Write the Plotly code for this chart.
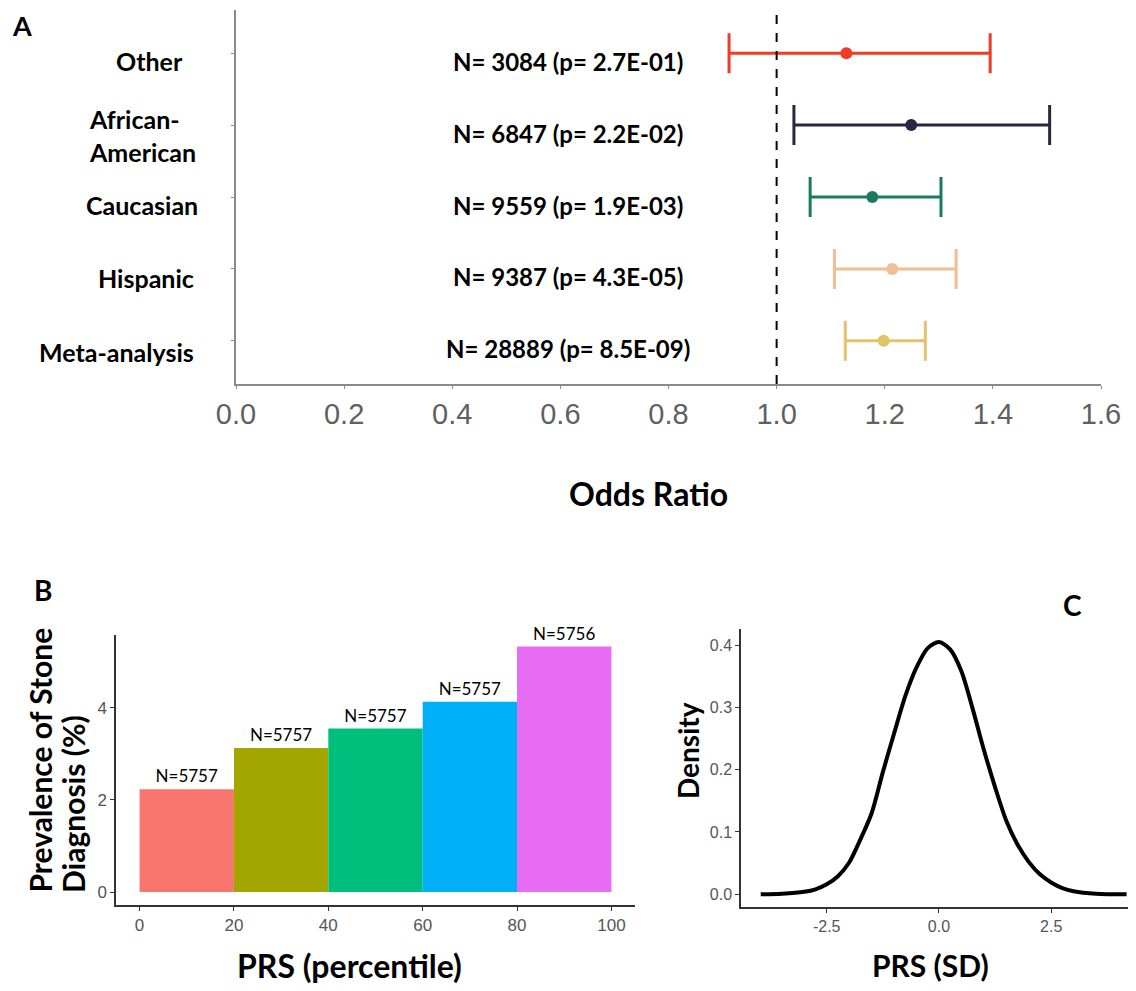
import plotly.graph_objects as go

# ---------------- Panel A data (forest plot) ----------------
groups = ["Other", "African-<br>American", "Caucasian", "Hispanic", "Meta-analysis"]
group_pos = [5, 4, 3, 2, 1]
odds_ratio = [1.129, 1.249, 1.177, 1.214, 1.198]
ci_low = [0.912, 1.032, 1.062, 1.107, 1.127]
ci_high = [1.395, 1.505, 1.304, 1.332, 1.275]
n_labels = ["N= 3084 (p= 2.7E-01)", "N= 6847 (p= 2.2E-02)", "N= 9559 (p= 1.9E-03)",
            "N= 9387 (p= 4.3E-05)", "N= 28889 (p= 8.5E-09)"]
group_colors = ["#F03C25", "#2A2540", "#1B7B5F", "#F1BD93", "#E4C26A"]
or_ticks = [0.0, 0.2, 0.4, 0.6, 0.8, 1.0, 1.2, 1.4, 1.6]

# ---------------- Panel B data (bars) ----------------
pct_bins_center = [10, 30, 50, 70, 90]
prevalence = [2.23, 3.13, 3.55, 4.13, 5.33]
bin_n = ["N=5757", "N=5757", "N=5757", "N=5757", "N=5756"]
bar_colors = ["#F8766D", "#A3A500", "#00BF7D", "#00B0F6", "#E76BF3"]

# ---------------- Panel C data (density) ----------------
prs_sd = [-3.97, -3.5, -3.0, -2.75, -2.5, -2.25, -2.0, -1.75, -1.5, -1.25, -1.0, -0.75,
          -0.5, -0.25, 0.0, 0.25, 0.5, 0.75, 1.0, 1.25, 1.5, 1.75, 2.0, 2.25, 2.5,
          2.75, 3.0, 3.5, 4.18]
density = [0.000, 0.001, 0.004, 0.008, 0.016, 0.029, 0.051, 0.088, 0.130, 0.196, 0.258,
           0.318, 0.364, 0.395, 0.405, 0.393, 0.358, 0.298, 0.232, 0.172, 0.118, 0.080,
           0.052, 0.032, 0.019, 0.010, 0.005, 0.001, 0.000]

# page body has an 8px margin, so the figure is shrunk and offset by it
OFF = 8
W, H = 1136 - OFF, 991 - OFF
def px(x):
    return (x - OFF) / W
def py(y):
    return 1 - (y - OFF) / H

fig = go.Figure()

# Panel A traces
for i in range(len(groups)):
    fig.add_trace(go.Scatter(
        x=[odds_ratio[i]], y=[group_pos[i]], mode="markers",
        marker=dict(color=group_colors[i], size=12),
        error_x=dict(type="data", symmetric=False,
                     array=[ci_high[i] - odds_ratio[i]],
                     arrayminus=[odds_ratio[i] - ci_low[i]],
                     color=group_colors[i], thickness=3, width=20),
        xaxis="x", yaxis="y", showlegend=False, cliponaxis=False))

# Panel B bars
fig.add_trace(go.Bar(
    x=pct_bins_center, y=prevalence, width=20,
    marker=dict(color=bar_colors, line=dict(width=0)),
    text=bin_n, textposition="outside",
    textfont=dict(family="Lato", size=17, color="black"),
    cliponaxis=False, xaxis="x2", yaxis="y2", showlegend=False))

# Panel C density
fig.add_trace(go.Scatter(
    x=prs_sd, y=density, mode="lines",
    line=dict(color="black", width=4, shape="spline", smoothing=0.8),
    xaxis="x3", yaxis="y3", showlegend=False))

axis_gray = "#8a8a8a"
dark = "#333333"
tickgray = "#555555"

common = dict(showgrid=False, zeroline=False, automargin=False, ticks="outside")

fig.update_layout(
    width=W, height=H,
    margin=dict(l=0, r=0, t=0, b=0, autoexpand=False),
    paper_bgcolor="white", plot_bgcolor="white",
    showlegend=False,
    xaxis=dict(domain=[px(236), px(1101)], anchor="y", range=[0, 1.6],
               tickvals=or_ticks, tickformat=".1f",
               showline=True, linecolor=axis_gray, linewidth=2,
               ticklen=3, tickcolor=axis_gray,
               tickfont=dict(family="Liberation Sans", size=29, color="#606060"), **common),
    yaxis=dict(domain=[py(384), py(10)], anchor="x", range=[0.4, 5.6],
               tickvals=group_pos, showticklabels=False,
               showline=True, linecolor=axis_gray, linewidth=2,
               ticklen=3, tickcolor=axis_gray, **common),
    xaxis2=dict(domain=[px(116), px(635)], anchor="y2", range=[-5, 105],
                tickvals=[0, 20, 40, 60, 80, 100],
                showline=True, linecolor=dark, linewidth=1.5,
                ticklen=4, tickcolor=dark,
                tickfont=dict(family="Liberation Sans", size=17, color=tickgray), **common),
    yaxis2=dict(domain=[py(905), py(635)], anchor="x2", range=[-0.28, 5.58],
                tickvals=[0, 2, 4],
                showline=True, linecolor=dark, linewidth=1.5,
                ticklen=4, tickcolor=dark,
                tickfont=dict(family="Liberation Sans", size=17, color=tickgray), **common),
    xaxis3=dict(domain=[px(741), 1.0], anchor="y3", range=[-4.41, 4.39],
                tickvals=[-2.5, 0, 2.5], ticktext=["-2.5", "0.0", "2.5"],
                showline=True, linecolor=dark, linewidth=1.5,
                ticklen=4, tickcolor=dark,
                tickfont=dict(family="Liberation Sans", size=16, color=tickgray), **common),
    yaxis3=dict(domain=[py(907), py(629)], anchor="x3", range=[-0.0204, 0.4257],
                tickvals=[0, 0.1, 0.2, 0.3, 0.4], ticktext=["0.0", "0.1", "0.2", "0.3", "0.4"],
                showline=True, linecolor=dark, linewidth=1.5,
                ticklen=4, tickcolor=dark,
                tickfont=dict(family="Liberation Sans", size=16, color=tickgray), **common),
)

# dashed reference line at OR = 1
fig.add_shape(type="line", xref="x", yref="y domain", x0=1.0, x1=1.0, y0=0, y1=1,
              line=dict(color="black", width=2, dash="dash"))

bold_font = "Lato"
ann = []
# group labels (left of panel A), left edge positions
label_left = [114, 87, 84, 96, 37]
label_shift = [-8, -10, -8, -9, -11]
for i, g in enumerate(groups):
    ann.append(dict(text="<b>" + g + "</b>", xref="paper", yref="y",
                    x=px(label_left[i]), y=group_pos[i], yshift=label_shift[i],
                    xanchor="left", yanchor="middle", showarrow=False, align="left",
                    font=dict(family=bold_font, size=25, color="black")))
    ann.append(dict(text="<b>" + n_labels[i] + "</b>", xref="x", yref="y",
                    x=0.614, y=group_pos[i], yshift=-8,
                    xanchor="center", yanchor="middle", showarrow=False,
                    font=dict(family=bold_font, size=24, color="black")))

ann += [
    dict(text="<b>Odds Ratio</b>", xref="paper", yref="paper", x=px(648), y=py(493),
         xanchor="center", yanchor="middle", showarrow=False,
         font=dict(family=bold_font, size=32, color="black")),
    dict(text="<b>A</b>", xref="paper", yref="paper", x=px(22), y=1.0,
         xanchor="center", yanchor="top", showarrow=False, borderpad=0,
         font=dict(family=bold_font, size=27, color="black")),
    dict(text="<b>B</b>", xref="paper", yref="paper", x=px(43), y=py(590),
         xanchor="center", yanchor="middle", showarrow=False,
         font=dict(family=bold_font, size=28, color="black")),
    dict(text="<b>C</b>", xref="paper", yref="paper", x=px(1072), y=py(605),
         xanchor="center", yanchor="middle", showarrow=False,
         font=dict(family=bold_font, size=28, color="black")),
    dict(text="<b>Prevalence of Stone</b>", xref="paper", yref="paper",
         x=px(39), y=py(895), textangle=-90,
         xanchor="center", yanchor="bottom", showarrow=False,
         font=dict(family=bold_font, size=30, color="black")),
    dict(text="<b>Diagnosis (%)</b>", xref="paper", yref="paper",
         x=px(73), y=py(895), textangle=-90,
         xanchor="center", yanchor="bottom", showarrow=False,
         font=dict(family=bold_font, size=30, color="black")),
    dict(text="<b>PRS (percentile)</b>", xref="paper", yref="paper", x=px(349), y=py(965),
         xanchor="center", yanchor="middle", showarrow=False,
         font=dict(family=bold_font, size=32, color="black")),
    dict(text="<b>Density</b>", xref="paper", yref="paper", x=px(688), y=py(751),
         textangle=-90, xanchor="center", yanchor="middle", showarrow=False,
         font=dict(family=bold_font, size=28, color="black")),
    dict(text="<b>PRS (SD)</b>", xref="paper", yref="paper", x=px(930), y=py(965),
         xanchor="center", yanchor="middle", showarrow=False,
         font=dict(family=bold_font, size=30, color="black")),
]
fig.update_layout(annotations=ann)

fig.write_html("out.html")
